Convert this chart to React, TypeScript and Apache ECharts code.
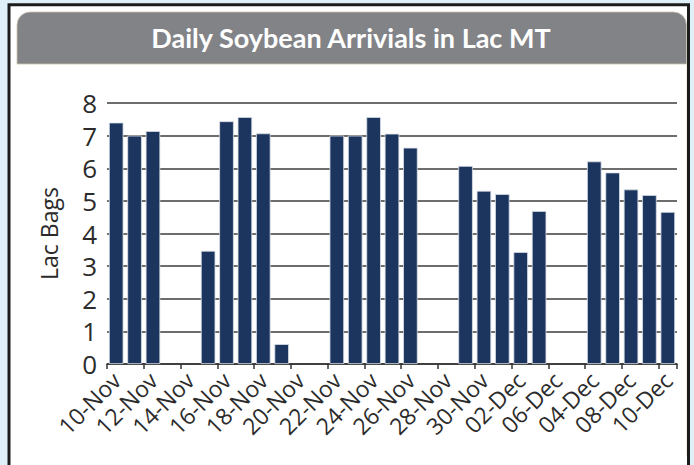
import React, { useEffect, useRef } from "react";
import * as echarts from "echarts";

const categories = [
  "10-Nov", "11-Nov", "12-Nov", "13-Nov", "14-Nov", "15-Nov", "16-Nov", "17-Nov",
  "18-Nov", "19-Nov", "20-Nov", "21-Nov", "22-Nov", "23-Nov", "24-Nov", "25-Nov",
  "26-Nov", "27-Nov", "28-Nov", "29-Nov", "30-Nov", "01-Dec", "02-Dec", "03-Dec",
  "06-Dec", "05-Dec", "04-Dec", "07-Dec", "08-Dec", "09-Dec", "10-Dec",
];

const arrivals: (number | null)[] = [
  7.4, 7.0, 7.14, null, null, 3.47, 7.44, 7.57, 7.07, 0.61, null, null,
  7.0, 7.0, 7.57, 7.06, 6.63, null, null, 6.07, 5.31, 5.21, 3.43, 4.69,
  null, null, 6.21, 5.87, 5.35, 5.18, 4.66,
];

const yTicks = { min: 0, max: 8, interval: 1 };

const titleText = "Daily Soybean Arrivials in Lac MT";
const yAxisTitle = "Lac Bags";

export default function App() {
  const ref = useRef<HTMLDivElement>(null);

  useEffect(() => {
    if (!ref.current) return;
    const chart = echarts.init(ref.current, null, { renderer: "svg" });
    const font = "Open Sans";
    chart.setOption({
      animation: false,
      backgroundColor: "#dff0f9",
      textStyle: { fontFamily: font },
      graphic: [
        {
          type: "rect",
          z: -10,
          shape: { x: 9, y: 4.7, width: 679.5, height: 520 },
          style: { fill: "#ffffff", stroke: "#1c1c1c", lineWidth: 3 },
          silent: true,
        },
        {
          type: "line",
          z: -9,
          shape: { x1: 686.5, y1: 64, x2: 686.5, y2: 456 },
          style: { stroke: "#f4efdf", lineWidth: 1 },
          silent: true,
        },
        {
          type: "rect",
          z: -8,
          shape: { x: 17, y: 12, width: 669.5, height: 52, r: [13, 13, 0, 0] },
          style: { fill: "#828387", stroke: "#cbc4ad", lineWidth: 0.8 },
          silent: true,
        },
        {
          type: "text",
          z: 10,
          x: 351,
          y: 37,
          style: {
            text: titleText,
            fill: "#ffffff",
            font: "bold 27px Lato",
            textAlign: "center",
            textVerticalAlign: "middle",
          },
          silent: true,
        },
      ],
      grid: { left: 107, right: 17, top: 103, bottom: 101, containLabel: false },
      xAxis: {
        type: "category",
        data: categories,
        boundaryGap: true,
        axisLine: { show: true, lineStyle: { color: "#333333", width: 1.5 } },
        axisTick: {
          show: true,
          interval: 1,
          alignWithLabel: false,
          length: 5,
          lineStyle: { color: "#333333", width: 1.5 },
        },
        axisLabel: {
          interval: 1,
          rotate: 45,
          fontSize: 23,
          color: "#2b2b2b",
          margin: 12,
          fontFamily: font,
        },
      },
      yAxis: {
        type: "value",
        min: yTicks.min,
        max: yTicks.max,
        interval: yTicks.interval,
        name: yAxisTitle,
        nameLocation: "middle",
        nameRotate: 90,
        nameGap: 47,
        nameTextStyle: { fontSize: 23, color: "#2b2b2b", fontFamily: font },
        axisLine: { show: false },
        axisTick: { show: false },
        axisLabel: { fontSize: 26, color: "#2b2b2b", margin: 10, fontFamily: font },
        splitLine: { show: true, lineStyle: { color: "#3c3c3c", width: 1.5 } },
      },
      series: [
        {
          type: "bar",
          data: arrivals,
          barCategoryGap: "21%",
          itemStyle: { color: "#1b355e", borderColor: "#d9dee6", borderWidth: 0.8 },
        },
      ],
    });
    return () => chart.dispose();
  }, []);

  return (
    <div
      ref={ref}
      style={{ position: "absolute", left: 0, top: 0, width: 694, height: 465 }}
    />
  );
}
